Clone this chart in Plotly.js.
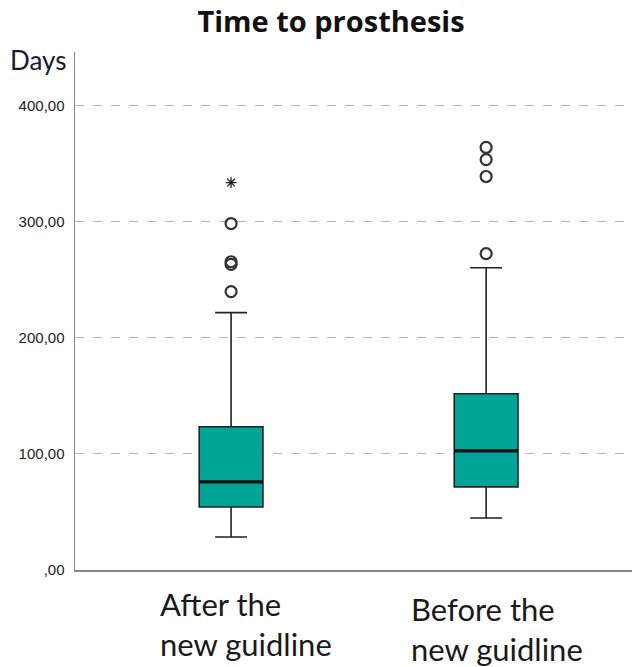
<!DOCTYPE html>
<html>
<head>
<meta charset="utf-8">
<script src="https://cdn.plot.ly/plotly-3.0.1.min.js"></script>
<style>html,body{margin:0;padding:0;background:#fff;}#chart{width:639px;height:667px;}</style>
</head>
<body>
<div id="chart"></div>
<script>
// ---- data ----
var groups = ["After the<br>new guidline", "Before the<br>new guidline"];
var groupPos = [0, 1];
var q1Vals = [54.3, 71.6];
var medianVals = [75.9, 102.6];
var q3Vals = [123.3, 151.7];
var lowerWhisker = [28.4, 44.8];
var upperWhisker = [221.6, 260.3];
// outliers (circles) per group
var outliersAfter = [239.7, 263.2, 265.4, 298.3];
var outliersBefore = [272.4, 338.8, 353.4, 363.8];
// extremes (stars) per group
var extremesAfter = [333.6];
var extremesBefore = [];
var yTickVals = [0, 100, 200, 300, 400];
var yTickText = [",00", "100,00", "200,00", "300,00", "400,00"];

var boxWidth = 0.25;
var teal = "#00A597";

var traces = [];
traces.push({
  type: "box",
  x: groupPos,
  q1: q1Vals,
  median: medianVals,
  q3: q3Vals,
  lowerfence: lowerWhisker,
  upperfence: upperWhisker,
  width: boxWidth,
  whiskerwidth: 0.5,
  fillcolor: teal,
  line: {color: "#222", width: 1.6},
  boxpoints: false,
  hoverinfo: "skip",
  showlegend: false
});

// thick median lines
var mx = [], my = [];
for (var i = 0; i < groupPos.length; i++) {
  mx.push(groupPos[i] - boxWidth / 2, groupPos[i] + boxWidth / 2, null);
  my.push(medianVals[i], medianVals[i], null);
}
traces.push({
  type: "scatter", mode: "lines", x: mx, y: my,
  line: {color: "#111", width: 3.2}, hoverinfo: "skip", showlegend: false
});

function pts(pos, arr) { return arr.map(function () { return pos; }); }
traces.push({
  type: "scatter", mode: "markers",
  x: pts(groupPos[0], outliersAfter).concat(pts(groupPos[1], outliersBefore)),
  y: outliersAfter.concat(outliersBefore),
  marker: {symbol: "circle-open", size: 11, color: "#333", line: {width: 2.2, color: "#333"}},
  hoverinfo: "skip", showlegend: false
});
traces.push({
  type: "scatter", mode: "markers",
  x: pts(groupPos[0], extremesAfter).concat(pts(groupPos[1], extremesBefore)),
  y: extremesAfter.concat(extremesBefore),
  marker: {symbol: "asterisk-open", size: 9, color: "#222", line: {width: 1.3, color: "#222"}},
  hoverinfo: "skip", showlegend: false
});

var annotations = [
  {text: "Days", xref: "paper", yref: "paper", x: -0.12, y: 1.0, yshift: -8, xanchor: "left", yanchor: "middle",
   showarrow: false, font: {family: "Lato, 'Open Sans', sans-serif", size: 26, color: "#1a1a33"}},
  {text: groups[0], xref: "x", yref: "paper", x: groupPos[0], xshift: 15, y: -0.025, yanchor: "top",
   xanchor: "center", align: "left", showarrow: false,
   font: {family: "Lato, 'Open Sans', sans-serif", size: 31, color: "#1a1a1a"}},
  {text: groups[1], xref: "x", yref: "paper", x: groupPos[1], xshift: 11, y: -0.035, yanchor: "top",
   xanchor: "center", align: "left", showarrow: false,
   font: {family: "Lato, 'Open Sans', sans-serif", size: 31, color: "#1a1a1a"}}
];

var layout = {
  width: 639, height: 667,
  margin: {l: 75, r: 7, t: 52, b: 97},
  paper_bgcolor: "#fff", plot_bgcolor: "#fff",
  title: {text: "<b>Time to prosthesis</b>", xref: "container", yref: "container",
          x: 0.518, xanchor: "center", y: 1 - 22 / 667, yanchor: "middle",
          font: {family: "'Open Sans', Lato, sans-serif", size: 29, color: "#111"}},
  xaxis: {range: [-0.612, 1.572], showticklabels: false, showgrid: false, zeroline: false,
          showline: true, linecolor: "#888", linewidth: 1.5, ticks: "", fixedrange: true},
  yaxis: {range: [0, 446], tickvals: yTickVals, ticktext: yTickText, showgrid: true,
          gridcolor: "#b5b5b5", griddash: "dash", gridwidth: 1, zeroline: false,
          showline: true, linecolor: "#888", linewidth: 1.5, ticks: "",
          ticklabelstandoff: 6,
          tickfont: {family: "'Liberation Sans', Arial, sans-serif", size: 15, color: "#222"}},
  annotations: annotations,
  showlegend: false
};

Plotly.newPlot("chart", traces, layout, {displayModeBar: false, staticPlot: true});
</script>
</body>
</html>
